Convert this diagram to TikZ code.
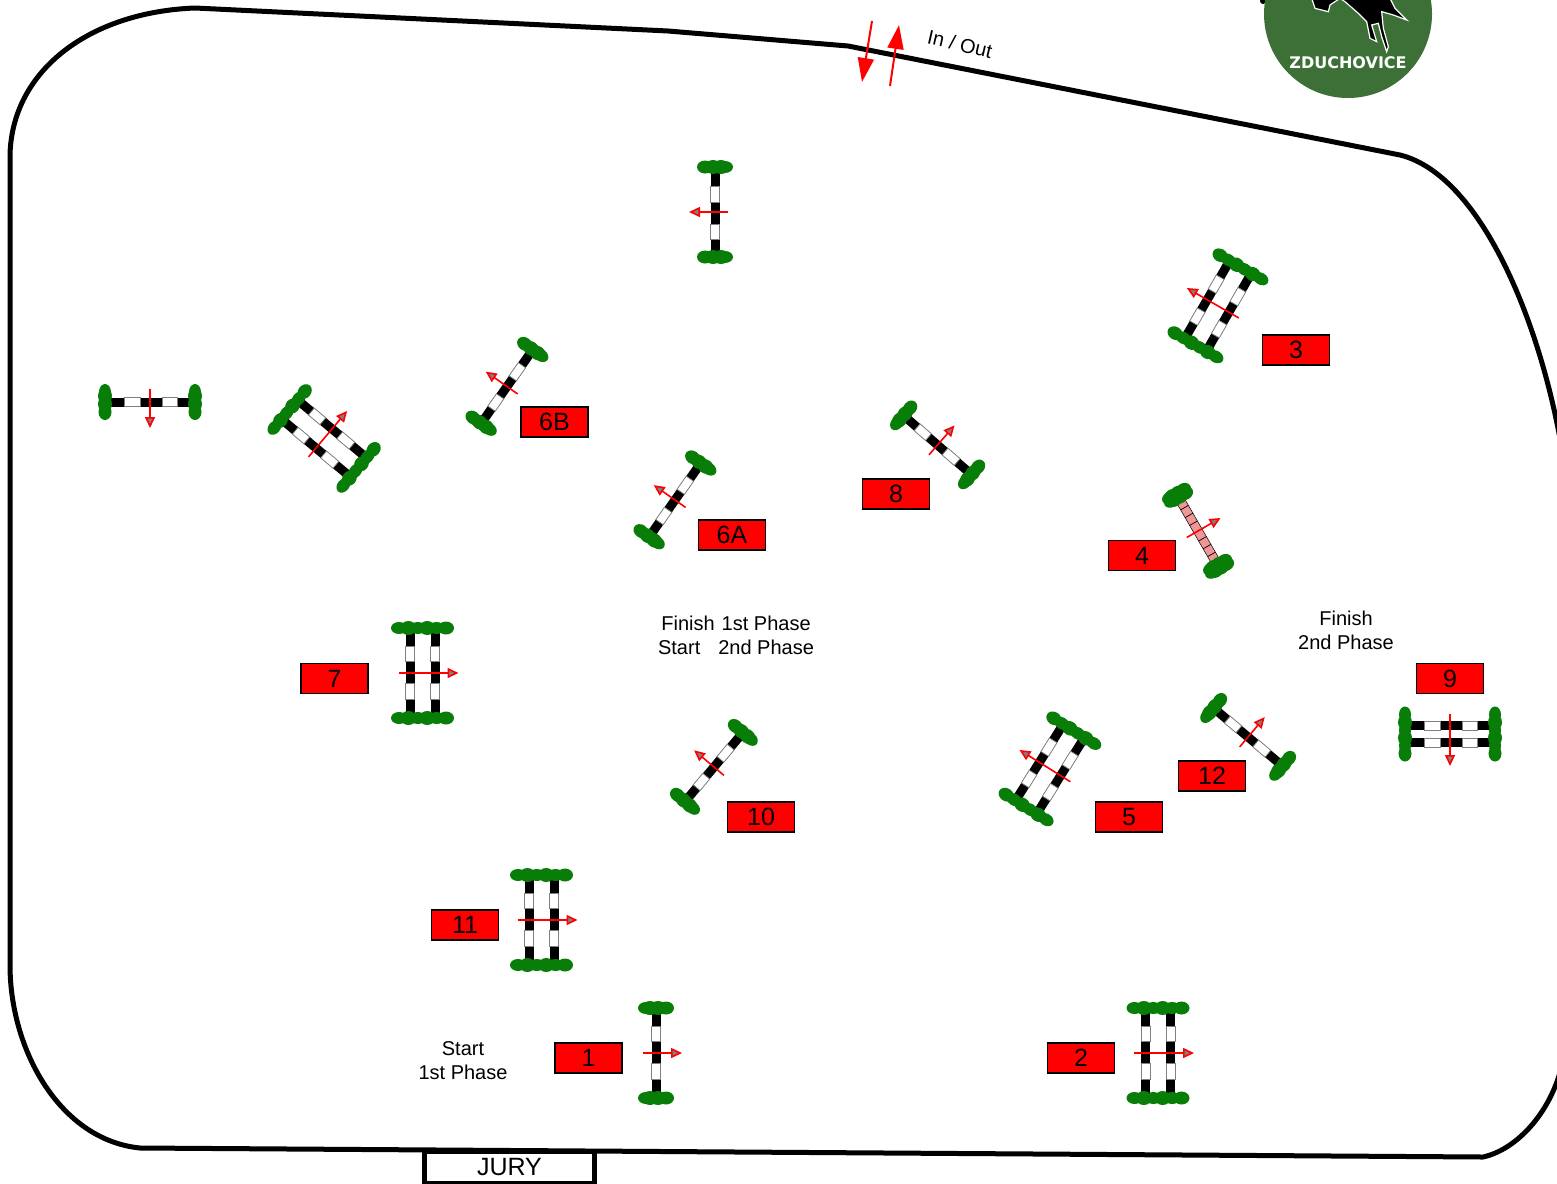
\documentclass[tikz,border=0pt]{standalone}
\usepackage{fontspec}
\setmainfont{Liberation Sans}
\newfontfamily\logofont{DejaVu Sans}
\usetikzlibrary{arrows.meta}
\definecolor{hedge}{RGB}{8,125,8}
\definecolor{meadow}{RGB}{60,112,55}
\definecolor{poleroze}{RGB}{240,150,150}
\tikzset{
  >={Triangle[length=11pt,width=10pt,fill=gray]},
  numbox/.style={draw=black,line width=1.5pt,fill=red,minimum width=67pt,minimum height=30pt,
    inner sep=0pt,font=\fontsize{25}{25}\selectfont},
  note/.style={align=center,inner sep=0pt,font=\fontsize{20}{24}\selectfont},
  ride/.style={->,red,line width=1.6pt},
  gate/.style={-{Triangle[length=24pt,width=16pt]},red,line width=2pt},
  border/.style={line width=5pt,line join=round},
  % pictograms
  pics/bush/.style={code={
    \foreach \s/\h in {-1/6,-0.6/7,-0.2/6,0.2/7,0.6/6,1/6.5} \fill[hedge] ({\s*(#1)},0) ellipse (8 and \h);
  }},
  pics/pole/.style={code={
    \fill[black] (-4.5,-42) rectangle (4.5,42);
    \draw[gray,fill=white,line width=0.8pt] (-4.5,-27) rectangle (4.5,-12);
    \draw[gray,fill=white,line width=0.8pt] (-4.5,10) rectangle (4.5,26);
  }},
  pics/fence/.style={code={
    \pic[transform shape] at (0,0) {pole};
    \pic[transform shape] at (0,-45) {bush=10};
    \pic[transform shape] at (0,45) {bush=10};
    \draw[ride] (-13,0) -- (26,0);
  }},
  pics/oxer/.style={code={
    \pic[transform shape] at (-#1,0) {pole};
    \pic[transform shape] at (#1,0) {pole};
    \pic[transform shape] at (0,-45) {bush=#1+11};
    \pic[transform shape] at (0,45) {bush=#1+11};
    \draw[ride] ({-#1-11.5},0) -- ({#1+23.5},0);
  }},
  pics/rosefence/.style={code={
    \draw[black,fill=poleroze,line width=0.5pt] (-4.5,-36) rectangle (4.5,36);
    \foreach \y in {-27,-18,...,27} \draw[black,line width=0.7pt] (-4.5,\y) -- (4.5,\y);
    \foreach \y in {-43,-39,39,43} \pic[transform shape] at (0,\y) {bush=8};
    \draw[ride] (-13,0) -- (26,0);
  }},
}
\begin{document}
\begin{tikzpicture}[x=1pt,y=-1pt]
  \clip (0,0) rectangle (1557,1183);
  % arena
  \draw[border] (10,155) .. controls (12,70) and (90,12) .. (195,8) -- (668,31) -- (848,46)
    -- (1400,155) .. controls (1480,175) and (1540,320) .. (1562,450);
  \draw[border] (1562,1065) .. controls (1550,1115) and (1515,1150) .. (1483,1157)
    -- (140,1148) .. controls (60,1140) and (10,1050) .. (10,965) -- (10,155);
  \node[draw=black,line width=5pt,fill=white,minimum width=170pt,minimum height=32pt,inner sep=0pt,
    font=\fontsize{25}{25}\selectfont] (jury) at (509.5,1167) {JURY};
  % logo
  \fill[black] (1263,1) circle (3);
  \fill[meadow] (1348,14) circle (84);
  \begin{scope}[shift={(1230,0)},scale=1/3]
    \draw[white,line width=1.2pt,fill=black] (245,-5) -- (255,25) -- (295,35) -- (300,15) -- (330,-5)
      -- (345,5) -- (385,40) -- (410,65) -- (420,115) -- (440,125) -- (425,75) -- (445,70)
      -- (455,110) -- (470,155) -- (475,140) -- (460,85) -- (455,35) -- (490,45) -- (530,60)
      -- (495,25) -- (480,-5) -- cycle;
  \end{scope}
  \node[text=white,inner sep=0pt,font=\logofont\bfseries\fontsize{16}{16}\selectfont] (club) at (1348,62.5) {ZDUCHOVICE};
  % gate
  \coordinate (ina) at (872,21);
  \coordinate (inb) at (862,82);
  \coordinate (outa) at (890,86);
  \coordinate (outb) at (899,25);
  \draw[gate] (ina) -- (inb);
  \draw[gate] (outa) -- (outb);
  \node[rotate=-13,inner sep=0pt,font=\fontsize{20}{24}\selectfont] (inout) at (960,44) {In / Out};
  % fences
  \foreach \x/\y/\r [count=\i] in {715/212/180,150/402/-90,507/386.5/145,675/500/145,714/767/140,
    937.5/445/49,1248/737/50,656/1053/0}
    \pic[rotate=\r] (fence\i) at (\x,\y) {fence};
  \foreach \x/\y/\r [count=\i] in {1218/306/150,1050/769/148,324/438.5/50,422.5/673/0,
    541.5/920/0,1158/1053/0}
    \pic[rotate=\r] (oxer\i) at (\x,\y) {oxer=12.5};
  \pic[rotate=-90] (oxer9) at (1450,734) {oxer=8.5};
  \pic[rotate=30] (fence4) at (1198,531) {rosefence};
  % numbers
  \foreach \n/\x/\y in {3/1296/350,6B/554.5/422,6A/732/535,8/896/494,4/1142/555.5,7/334.5/678.5,
    9/1450/678.5,12/1212/776,10/761/817,5/1129/817,11/465/925,1/588.5/1058,2/1081/1058}
    \node[numbox] (num\n) at (\x,\y) {\n};
  % phases
  \node[note] (phasemid) at (736,635) {Finish\hspace{7pt}1st Phase\\Start\hspace{18pt}2nd Phase};
  \node[note] (phaseend) at (1346,630) {Finish\\2nd Phase};
  \node[note] (phasestart) at (463,1061) {Start\\1st Phase};
\end{tikzpicture}
\end{document}
